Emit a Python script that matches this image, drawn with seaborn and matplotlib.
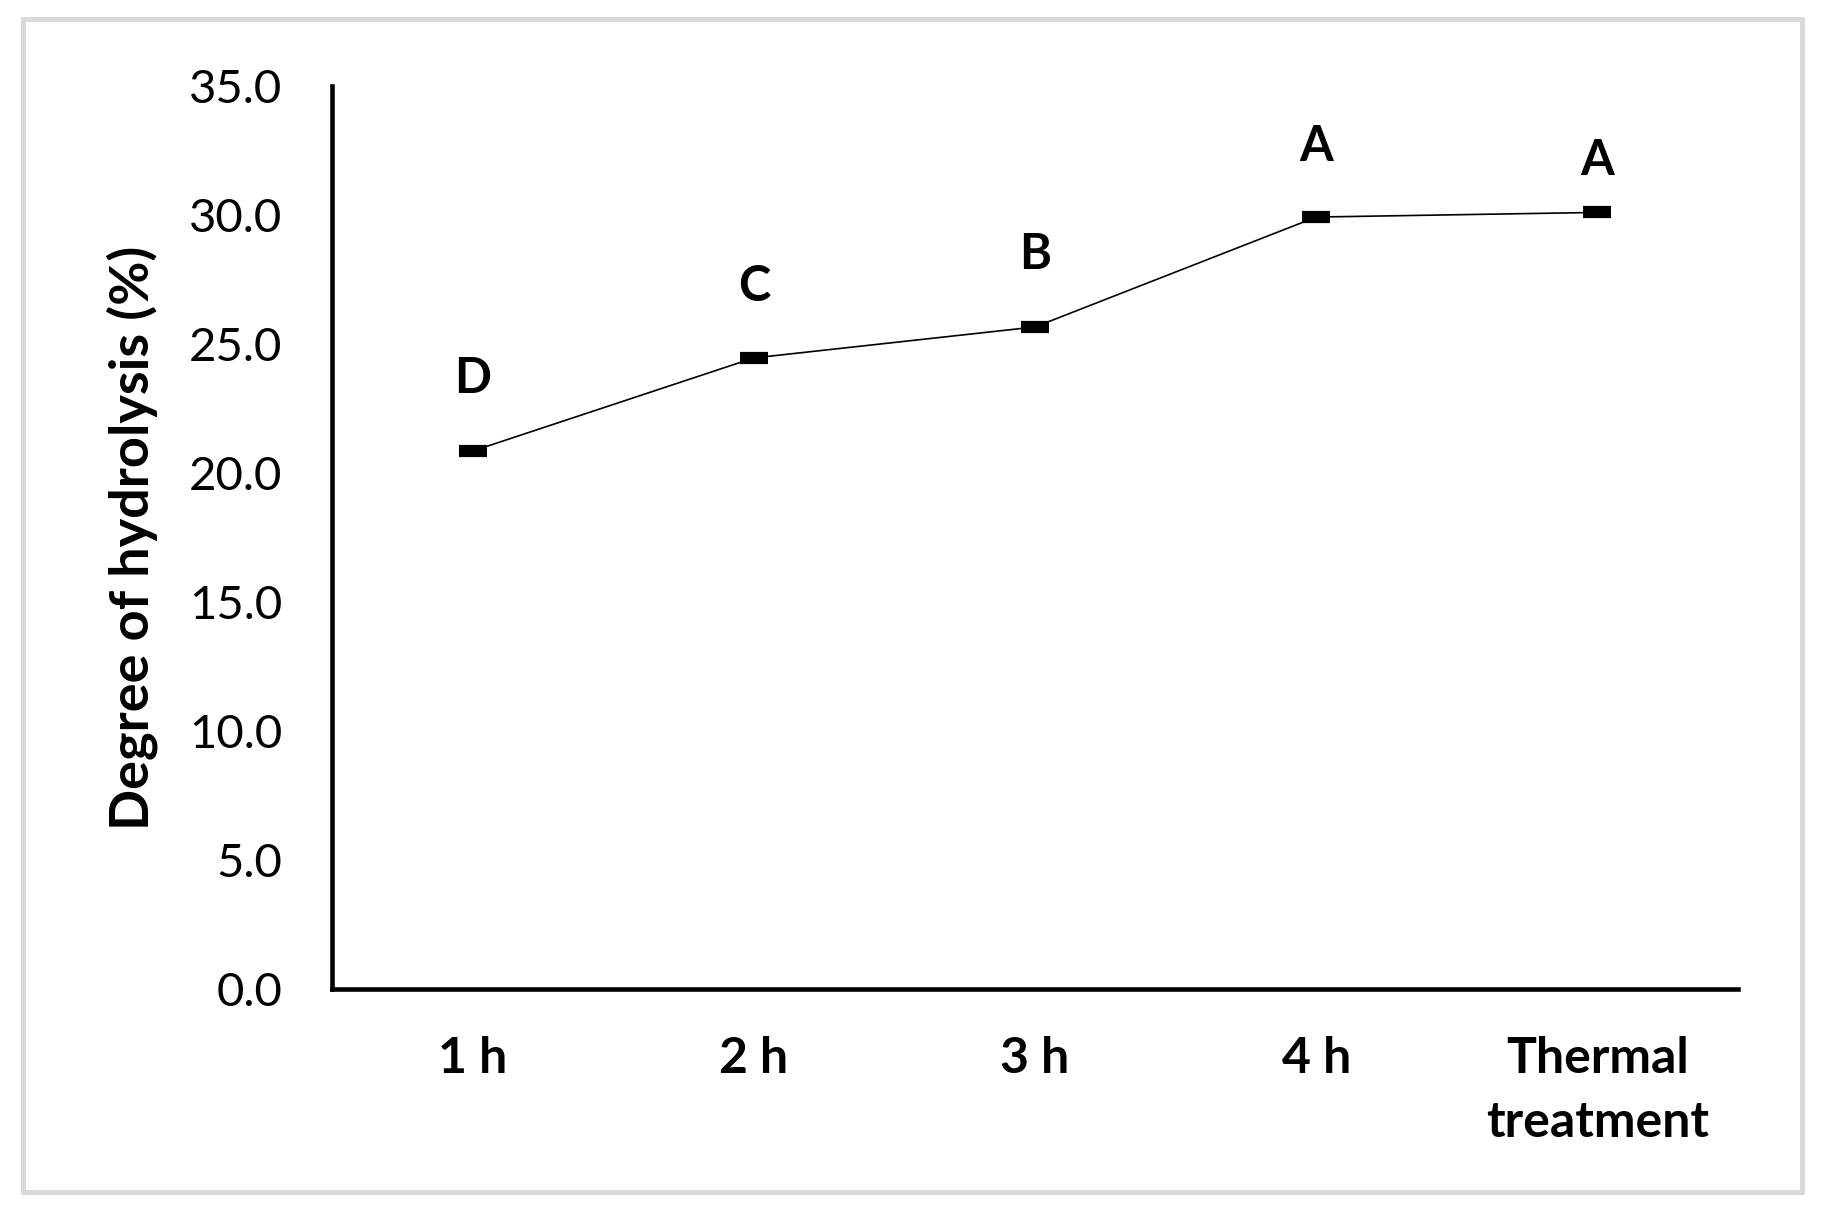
import numpy as np
import pandas as pd
import matplotlib
matplotlib.use("Agg")
import matplotlib.pyplot as plt
import seaborn as sns
from matplotlib.patches import Rectangle

sns.set_style("white")
plt.rcParams["font.family"] = ["Lato", "DejaVu Sans"]
plt.rcParams["text.color"] = "black"
plt.rcParams["xtick.color"] = "black"
plt.rcParams["ytick.color"] = "black"
plt.rcParams["axes.labelcolor"] = "black"

# data
times = ["1 h", "2 h", "3 h", "4 h", "Thermal\ntreatment"]
dh = [20.85, 24.46, 25.66, 29.92, 30.1]
letters = ["D", "C", "B", "A", "A"]
letter_y = [23.68, 27.21, 28.45, 32.64, 32.13]

dt = pd.DataFrame({"time": times, "dh": dh})

fig = plt.figure(figsize=(18.28, 12.14), dpi=100)
ax = fig.add_axes([332/1828, 1-989/1214, (1738-332)/1828, (989-86)/1214])

sns.lineplot(data=dt, x="time", y="dh", sort=False, color="black", lw=1.2,
             marker="_", markersize=20, markeredgewidth=8.8,
             markeredgecolor="black", ax=ax)

for i, (l, y) in enumerate(zip(letters, letter_y)):
    ax.text(i, y, l, ha="center", va="center", fontsize=35, fontweight="bold")

ax.set_xlim(-0.5, 4.5)
ax.set_ylim(0, 35)
ax.set_yticks(np.arange(0, 35.1, 5))
ax.set_yticklabels(["%.1f" % v for v in np.arange(0, 35.1, 5)], fontsize=34)
ax.set_xticks(range(len(times)))
ax.set_xticklabels(times, fontsize=36, fontweight="bold")
for t in ax.get_xticklabels():
    t.set_linespacing(1.5)
ax.tick_params(axis="both", length=0)
ax.tick_params(axis="y", pad=36)
ax.tick_params(axis="x", pad=34)
ax.set_xlabel("")
ax.set_ylabel("Degree of hydrolysis (%)", fontsize=39, fontweight="bold")
ax.yaxis.set_label_coords(-0.124, 0.5)

sns.despine(ax=ax)
for s in ["left", "bottom"]:
    ax.spines[s].set_linewidth(3.3)
    ax.spines[s].set_color("black")

fig.add_artist(Rectangle((23/1828, 1-1192/1214), (1802-23)/1828, (1192-19)/1214,
                         transform=fig.transFigure, fill=False, ec="#d9d9d9", lw=3.5))

fig.savefig("out.png", dpi=100)
